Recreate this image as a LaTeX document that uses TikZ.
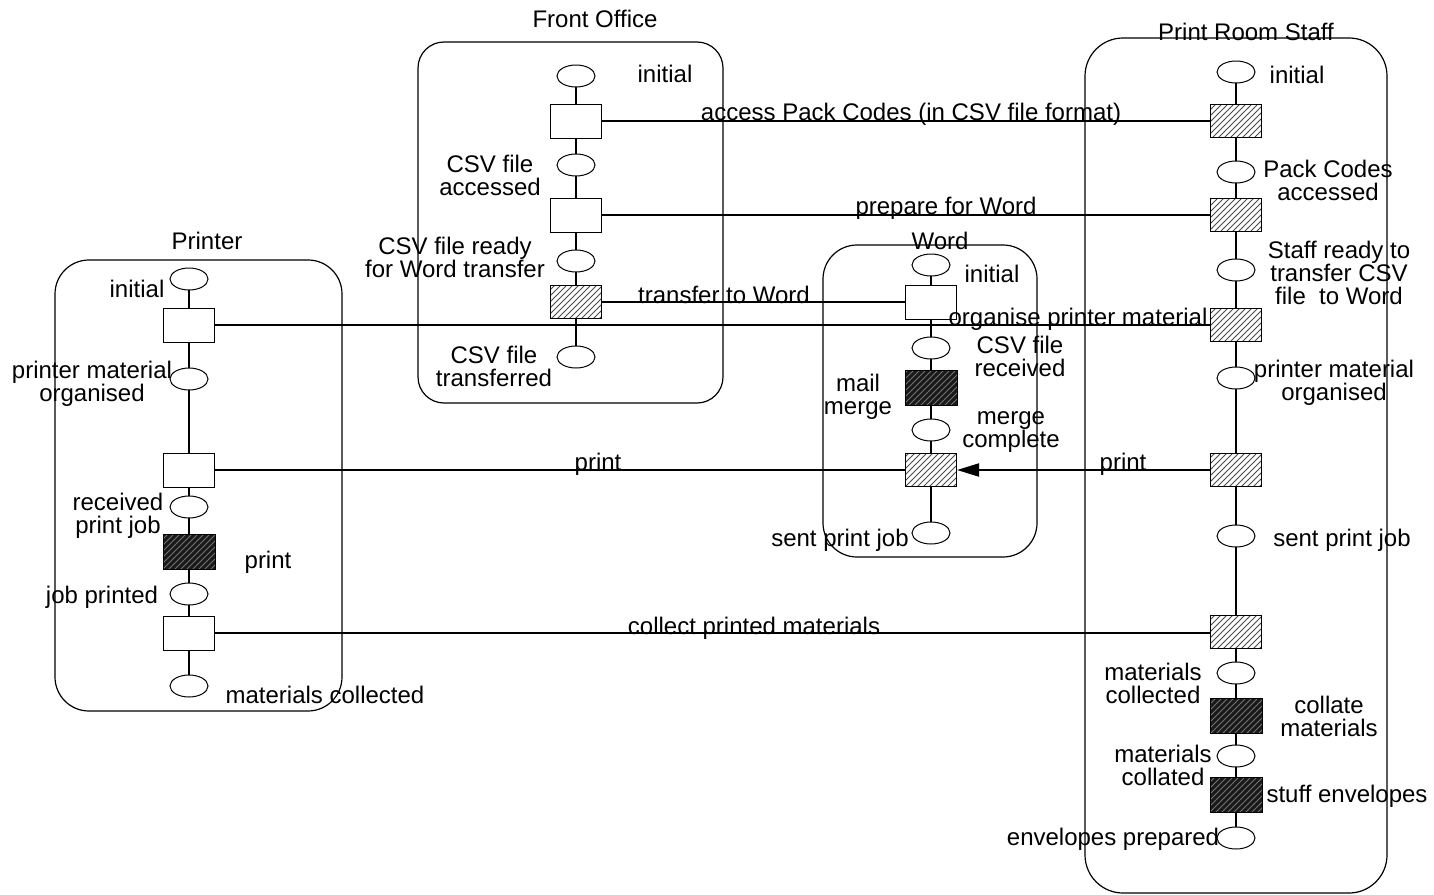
\documentclass[tikz,border=0pt]{standalone}
\usepackage{fontspec}
\setmainfont{Liberation Sans}
\usetikzlibrary{shapes.geometric,patterns,arrows.meta,backgrounds}
\begin{document}
\begin{tikzpicture}[x=0.5pt,y=-0.5pt,
  every node/.style={font=\fontsize{12}{11.5}\selectfont, inner sep=0pt},
  lane/.style={draw, line width=0.6pt},
  place/.style={ellipse, draw, fill=white, minimum width=19pt, minimum height=11pt, line width=0.5pt},
  trans/.style={rectangle, draw, fill=white, minimum width=25.5pt, minimum height=17pt, line width=0.5pt},
  hatchbox/.style={rectangle, draw, minimum width=25.5pt, minimum height=16.5pt, line width=0.5pt,
     preaction={fill=white}, pattern=north east lines, pattern color=black!70},
  blackbox/.style={rectangle, draw, minimum width=26pt, minimum height=17.5pt, line width=0.5pt,
     preaction={fill=black!90}, pattern=north east lines, pattern color=black!55},
  conn/.style={draw, line width=1pt},
  vline/.style={draw, line width=1pt},
  lbl/.style={align=center},
  clbl/.style={anchor=base}
]
\useasboundingbox (0,0) rectangle (1434,894);

% swimlanes
\draw[lane, rounded corners=13pt] (418,42) rectangle (723,403);
\draw[lane, rounded corners=17pt] (55,260) rectangle (342,711);
\draw[lane, rounded corners=17pt] (823,245) rectangle (1037,557);
\draw[lane, rounded corners=19pt] (1085,38) rectangle (1387,893);

\node (tFO) at (595,19) {Front Office};
\node (tPR) at (207,241) {Printer};
\node (tW) at (940,241) {Word};
\node (tPRS) at (1246,32) {Print Room Staff};

% Front Office column
\node[place] (fp1) at (576,76) {};
\node[trans] (ft1) at (576,121) {};
\node[place] (fp2) at (576,165) {};
\node[trans] (ft2) at (576,215) {};
\node[place] (fp3) at (576,261) {};
\node[hatchbox] (ft3) at (576,302) {};
\node[place] (fp4) at (576,357) {};
\node[lbl] (lf1) at (665,74) {initial};
\node[lbl] (lf2) at (490,175) {CSV file\\accessed};
\node[lbl] (lf3) at (455,257) {CSV file ready\\for Word transfer};
\node[lbl] (lf4) at (494,366) {CSV file\\transferred};

% Print Room Staff column
\node[place] (sp1) at (1236,72) {};
\node[hatchbox] (st1) at (1236,121) {};
\node[place] (sp2) at (1236,172) {};
\node[hatchbox] (st2) at (1236,215) {};
\node[place] (sp3) at (1236,270) {};
\node[hatchbox] (st3) at (1236,325) {};
\node[place] (sp4) at (1236,378) {};
\node[hatchbox] (st4) at (1236,470) {};
\node[place] (sp5) at (1236,536) {};
\node[hatchbox] (st5) at (1236,632) {};
\node[place] (sp6) at (1236,673) {};
\node[blackbox] (st6) at (1236,716) {};
\node[place] (sp7) at (1236,756) {};
\node[blackbox] (st7) at (1236,795) {};
\node[place] (sp8) at (1236,838) {};
\node[lbl] (ls1) at (1297,75) {initial};
\node[lbl] (ls2) at (1328,180) {Pack Codes\\accessed};
\node[lbl] (ls3) at (1339,273) {Staff ready to\\transfer CSV\\file~~to Word};
\node[lbl] (ls4) at (1334,383) {printer material\\organised};
\node[lbl] (ls5) at (1342,540) {sent print job};
\node[lbl] (ls6) at (1153,683) {materials\\collected};
\node[lbl] (ls7) at (1329,716) {collate\\materials};
\node[lbl] (ls8) at (1163,765) {materials\\collated};
\node[lbl] (ls9) at (1347,796) {stuff envelopes};
\node[lbl] (ls10) at (1113,839) {envelopes prepared};

% Printer column
\node[place] (pp1) at (189,279) {};
\node[trans] (pt1) at (189,325) {};
\node[place] (pp2) at (189,379) {};
\node[trans] (pt2) at (189,470) {};
\node[place] (pp3) at (189,507) {};
\node[blackbox] (pt3) at (189,552) {};
\node[place] (pp4) at (189,594) {};
\node[trans] (pt4) at (189,633) {};
\node[place] (pp5) at (189,686) {};
\node[lbl] (lp1) at (137,289) {initial};
\node[lbl] (lp2) at (92,384) {printer material\\organised};
\node[lbl] (lp3) at (118,516) {received\\print job};
\node[lbl] (lp4) at (268,562) {print};
\node[lbl] (lp5) at (102,597) {job printed};
\node[lbl] (lp6) at (325,695) {materials collected};

% Word column
\node[place] (wp1) at (931,265) {};
\node[trans] (wt1) at (931,302) {};
\node[place] (wp2) at (931,348) {};
\node[blackbox] (wt2) at (931,388) {};
\node[place] (wp3) at (931,430) {};
\node[hatchbox] (wt3) at (931,470) {};
\node[place] (wp4) at (931,533) {};
\node[lbl] (lw1) at (992,274) {initial};
\node[lbl] (lw2) at (1020,356) {CSV file\\received};
\node[lbl] (lw3) at (858,397) {mail\\merge};
\node[lbl] (lw4) at (1011,432) {merge\\complete};
\node[lbl] (lw5) at (840,540) {sent print job};

% vertical flow lines
\begin{scope}[on background layer]
\draw[vline] (fp1.center) -- (fp4.center);
\draw[vline] (sp1.center) -- (sp8.center);
\draw[vline] (pp1.center) -- (pp5.center);
\draw[vline] (wp1.center) -- (wp4.center);
\end{scope}

% horizontal connectors
\draw[conn] (ft1) -- (ft1 -| st1.west);
\draw[conn] (ft2) -- (st2);
\draw[conn] (ft3) -- (wt1);
\draw[conn] (pt1) -- (st3);
\draw[conn] (pt2) -- (wt3);
\draw[conn, -{Triangle[length=11pt,width=6.5pt]}] (st4) -- (wt3);
\draw[conn] (pt4) -- (pt4 -| st5.west);

\node[clbl] (c1) at (911,120) {access Pack Codes (in CSV file format)};
\node[clbl] (c2) at (946,214) {prepare for Word};
\node[clbl] (c3) at (724,303) {transfer to Word};
\node[clbl] (c4) at (1078,325) {organise printer material};
\node[clbl] (c5) at (598,470) {print};
\node[clbl] (c6) at (1123,470) {print};
\node[clbl] (c7) at (754,634) {collect printed materials};
\end{tikzpicture}
\end{document}
